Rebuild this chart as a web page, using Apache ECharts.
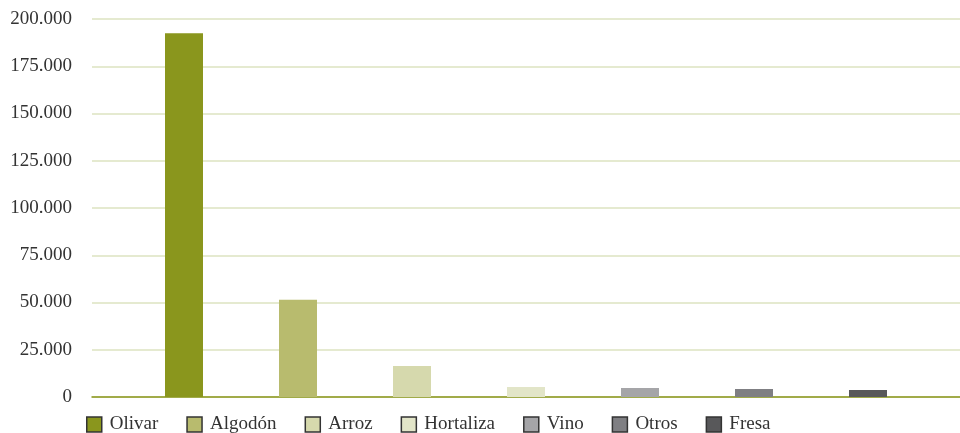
<!DOCTYPE html>
<html>
<head>
<meta charset="UTF-8">
<title>Cultivos</title>
<script src="https://cdn.jsdelivr.net/npm/echarts@6/dist/echarts.min.js"></script>
<style>
  html, body { margin: 0; padding: 0; background: #fff; }
  #main { width: 960px; height: 433px; }
</style>
</head>
<body>
<div id="main"></div>
<script>
// datos
var cultivos = ['Olivar', 'Algodón', 'Arroz', 'Hortaliza', 'Vino', 'Otros', 'Fresa'];
var valores = [192500, 51500, 16400, 5300, 4800, 4200, 3700];
var colores = ['#8a961d', '#b8bb6e', '#d6d9ad', '#e2e5c8', '#a5a5a8', '#7f7f83', '#58585a'];
var yTicks = [0, 25000, 50000, 75000, 100000, 125000, 150000, 175000, 200000];

var fuente = 'Liberation Serif';

function miles(v) {
    return String(v).replace(/\B(?=(\d{3})+(?!\d))/g, '.');
}

var series = cultivos.map(function (nombre, i) {
    return {
        name: nombre,
        type: 'bar',
        data: [valores[i]],
        barWidth: 38,
        barGap: '200%',
        itemStyle: { color: colores[i] },
        emphasis: { disabled: true }
    };
});

var myChart = echarts.init(document.getElementById('main'));

myChart.setOption({
    animation: false,
    grid: { left: 92, right: 0, top: 19, bottom: 36 },
    legend: {
        left: 81,
        top: 410,
        itemWidth: 15,
        itemHeight: 15,
        itemGap: 28,
        icon: 'rect',
        itemStyle: { borderColor: '#333', borderWidth: 1.5 },
        textStyle: { fontFamily: fuente, fontSize: 19, color: '#333', padding: [0, 0, 0, 3] },
        data: cultivos
    },
    xAxis: {
        type: 'category',
        data: [''],
        axisLine: { lineStyle: { color: '#8a961d', width: 1.5 } },
        axisTick: { show: false },
        axisLabel: { show: false }
    },
    yAxis: {
        type: 'value',
        min: yTicks[0],
        max: yTicks[yTicks.length - 1],
        interval: 25000,
        axisLine: { show: false },
        axisTick: { show: false },
        splitLine: { lineStyle: { color: '#dde3c0', width: 1.5 } },
        axisLabel: {
            margin: 20,
            fontFamily: fuente,
            fontSize: 19,
            color: '#333',
            formatter: function (v) { return miles(v); }
        }
    },
    series: series
});
</script>
</body>
</html>
